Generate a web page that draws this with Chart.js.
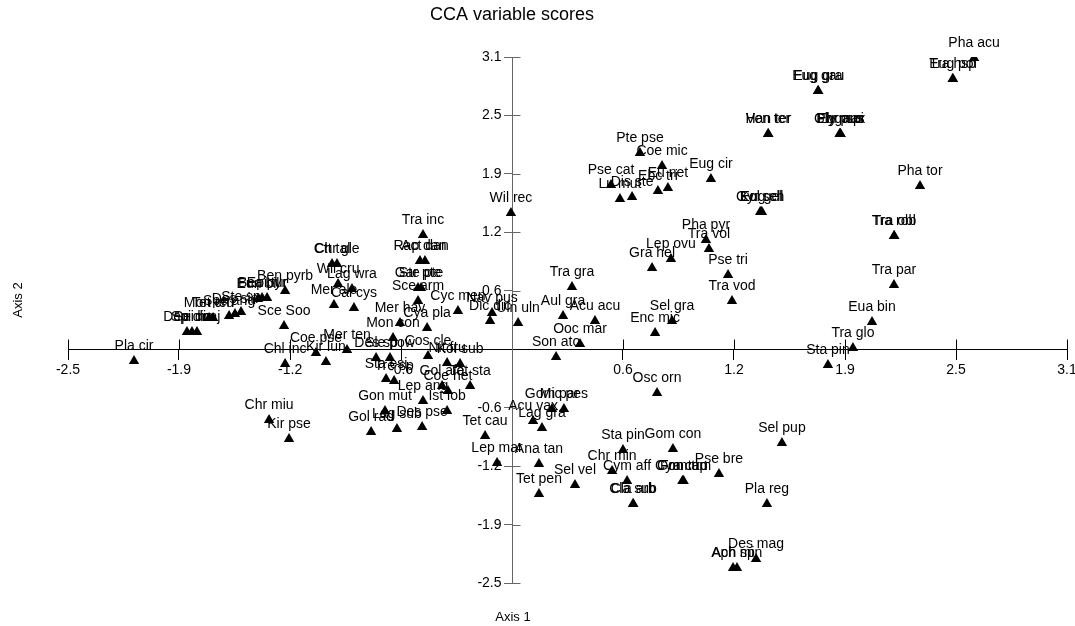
<!DOCTYPE html>
<html>
<head>
<meta charset="utf-8">
<script src="https://cdn.jsdelivr.net/npm/chart.js@4"></script>
<style>
html,body{margin:0;padding:0;background:#fff;}
canvas{display:block;}
</style>
</head>
<body>
<canvas id="c" width="1075" height="626"></canvas>
<script>
const names = ["Pla cir","Dep dic","Spi dic","Sei maj","Mon ten","Tet cru","Spe ang","Des sin","Ste sp","Eun bil","Bea pyr","Epi tur","Ben pyrb","Sce Soo","Ctt tal","Chr gle","Wil cru","Lag wra","Mer ale","Cal cys","Tra inc","Rap dan","Act dan","Gar pte","Ste pte","Sce arm","Mer hav","Mon con","Cya pla","Cyc men","Nav pus","Dic dic","Uln uln","Wil rec","Tra gra","Aul gra","Acu acu","Ooc mar","Son ato","Enc mic","Sel gra","Gra hel","Lep ovu","Pha pyr","Tra vol","Pse tri","Tra vod","Pte pse","Coe mic","Eug cir","Pse cat","Lu mut","Dis ste","Ebc tri","Eu net","Kol gel","Eug ell","Gyr sch","Ven ter","Han ter","Eug gra","Eug gau","Ely pus","Eug spi","Gly max","Phr aus","Pha acu","Eug pol","Tra hsp","Pha tor","Tra rob","Tra obl","Tra par","Eua bin","Tra glo","Sta pin","Osc orn","Sel pup","Pse bre","Pla reg","Gom con","Sta pin","Chr min","Cym aff","Cla sub","Cla arb","Cym tum","Fra cap","Gom tru","Des mag","Aph sp","Ach min","Sel vel","Tet pen","Ana tan","Lep mar","Tet cau","Gom par","Mic pes","Acu vax","Lag gra","Chr miu","Kir pse","Gol rad","Lag sub","Des pse","Gon mut","Ist lob","Lep ang","Gol afa","Coe het","Tet sta","Cos cle","Kol sub","Nit fru","Chl inc","Coe pse","Kir lun","Mer ten","Des sp","Sle pow","Sta esi","Tre sp"];
const axis1 = [-2.119,-1.822,-1.794,-1.766,-1.698,-1.676,-1.586,-1.553,-1.519,-1.424,-1.401,-1.373,-1.272,-1.278,-1.009,-0.981,-0.975,-0.897,-0.998,-0.886,-0.499,-0.516,-0.488,-0.527,-0.510,-0.527,-0.628,-0.667,-0.476,-0.303,-0.112,-0.123,0.034,-0.006,0.336,0.286,0.465,0.381,0.247,0.802,0.897,0.785,0.891,1.087,1.104,1.211,1.233,0.717,0.841,1.115,0.555,0.605,0.673,0.818,0.874,1.396,1.401,1.391,1.435,1.437,1.715,1.717,1.839,1.842,1.836,1.841,2.590,2.472,2.470,2.287,2.141,2.143,2.141,2.018,1.911,1.771,0.813,1.513,1.160,1.429,0.902,0.622,0.561,0.645,0.678,0.680,0.959,0.962,0.955,1.368,1.239,1.261,0.353,0.151,0.151,-0.084,-0.151,0.224,0.291,0.118,0.168,-1.362,-1.250,-0.790,-0.645,-0.504,-0.712,-0.364,-0.499,-0.392,-0.359,-0.235,-0.471,-0.291,-0.364,-1.272,-1.099,-1.043,-0.925,-0.762,-0.684,-0.706,-0.661];
const axis2 = [-0.126,0.183,0.183,0.183,0.332,0.332,0.353,0.375,0.396,0.534,0.545,0.545,0.620,0.247,0.907,0.907,0.694,0.641,0.471,0.439,1.216,0.939,0.939,0.652,0.652,0.513,0.279,0.119,0.226,0.407,0.385,0.300,0.279,1.450,0.662,0.353,0.300,0.055,-0.083,0.172,0.300,0.864,0.960,1.163,1.067,0.790,0.513,2.089,1.950,1.812,1.748,1.599,1.620,1.684,1.716,1.461,1.461,1.461,2.291,2.291,2.749,2.749,2.291,2.291,2.291,2.291,3.100,2.877,2.877,1.737,1.205,1.205,0.683,0.290,0.013,-0.168,-0.466,-0.999,-1.329,-1.648,-1.062,-1.073,-1.297,-1.403,-1.648,-1.648,-1.403,-1.403,-1.403,-2.234,-2.329,-2.329,-1.446,-1.542,-1.222,-1.212,-0.924,-0.637,-0.637,-0.764,-0.839,-0.754,-0.956,-0.881,-0.850,-0.828,-0.658,-0.658,-0.551,-0.392,-0.445,-0.392,-0.072,-0.158,-0.147,-0.158,-0.040,-0.136,-0.009,-0.094,-0.094,-0.317,-0.339];
const tickValues = [-2.489,-1.867,-1.244,-0.622,0,0.622,1.244,1.867,2.489,3.111];
const tickLabels = ["-2.5","-1.9","-1.2","-0.6","","0.6","1.2","1.9","2.5","3.1"];
const titleText = "CCA variable scores";
const xTitle = "Axis 1";
const yTitle = "Axis 2";

const FONT = "'Liberation Sans', Arial, sans-serif";
const points = names.map((n,i)=>({x:axis1[i], y:axis2[i]}));

const decor = {
  id:'decor',
  afterDatasetsDraw(chart){
    const ctx = chart.ctx;
    const meta = chart.getDatasetMeta(0);
    ctx.save();
    ctx.font = "14px " + FONT;
    ctx.fillStyle = '#000';
    ctx.textAlign = 'center';
    ctx.textBaseline = 'middle';
    meta.data.forEach((el,i)=>{ ctx.fillText(names[i], el.x, el.y - 15); });
    ctx.restore();
  },
  afterDraw(chart){
    const ctx = chart.ctx;
    const xs = chart.scales.x, ys = chart.scales.y;
    const y0 = Math.round(ys.getPixelForValue(0)) + 0.5;
    const x0 = Math.round(xs.getPixelForValue(0)) + 0.5;
    ctx.save();
    ctx.lineWidth = 1;
    ctx.strokeStyle = '#000';
    tickValues.forEach(v=>{
      if (v === 0) return;
      const px = Math.round(xs.getPixelForValue(v)) + 0.5;
      ctx.beginPath(); ctx.moveTo(px, y0 - 10); ctx.lineTo(px, y0); ctx.stroke();
    });
    ctx.strokeStyle = '#666';
    ctx.fillStyle = '#000';
    ctx.font = "14px " + FONT;
    ctx.textAlign = 'right';
    ctx.textBaseline = 'middle';
    tickValues.forEach((v,i)=>{
      if (v === 0) return;
      const py = Math.round(ys.getPixelForValue(v)) + 0.5;
      ctx.beginPath(); ctx.moveTo(x0, py); ctx.lineTo(x0 + 8, py); ctx.stroke();
      ctx.fillText(tickLabels[i], x0 - 11, py);
    });
    ctx.textAlign = 'center';
    ctx.font = "18px " + FONT;
    ctx.fillText(titleText, 512, 15);
    ctx.font = "13px " + FONT;
    ctx.fillText(xTitle, 513, 617);
    ctx.translate(18, 300);
    ctx.rotate(-Math.PI/2);
    ctx.fillText(yTitle, 0, 0);
    ctx.restore();
  }
};

new Chart(document.getElementById('c'), {
  type:'scatter',
  data:{datasets:[{data:points, pointStyle:'triangle', pointRadius:6, pointHoverRadius:6, backgroundColor:'#000', borderColor:'#000', borderWidth:0}]},
  options:{
    responsive:false,
    animation:false,
    events:[],
    layout:{padding:{left:68, right:8, top:57, bottom:43}},
    plugins:{
      legend:{display:false},
      tooltip:{enabled:false},
      title:{display:false}
    },
    scales:{
      x:{
        type:'linear', min:-2.489, max:3.111, position:{y:0},
        afterBuildTicks:(s)=>{ s.ticks = tickValues.map(v=>({value:v})); },
        afterFit:(s)=>{ s.paddingLeft = 0; s.paddingRight = 0; },
        ticks:{callback:(v,i)=>tickLabels[i], color:'#000', font:{size:14, family:FONT}, padding:3, autoSkip:false, maxRotation:0},
        grid:{drawOnChartArea:false, tickLength:10, color:'#000'},
        border:{color:'#000'}
      },
      y:{
        type:'linear', min:-2.489, max:3.111, position:{x:0},
        afterBuildTicks:(s)=>{ s.ticks = tickValues.map(v=>({value:v})); },
        afterFit:(s)=>{ s.paddingTop = 0; s.paddingBottom = 0; },
        ticks:{display:false},
        grid:{drawOnChartArea:false, tickLength:8, color:'#666'},
        border:{color:'#666'}
      }
    }
  },
  plugins:[decor]
});
</script>
</body>
</html>
